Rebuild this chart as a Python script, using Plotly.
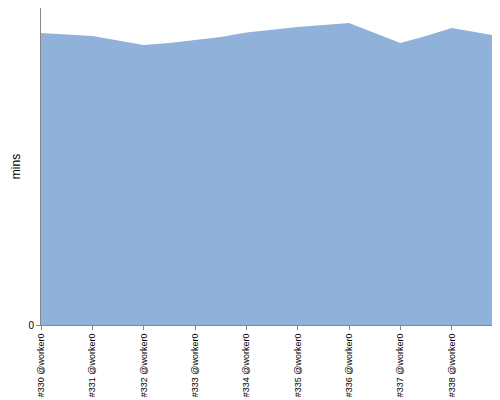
import plotly.graph_objects as go

x_pos = list(range(19))
values = [292, 290.5, 289, 284.5, 280, 282, 285, 288, 292.5, 295.5, 298, 300, 302, 292, 282, 289, 297, 292.5, 288]
tick_pos = [0, 2, 4, 6, 8, 10, 12, 14, 16, 18]
tick_labels = ["#%d @worker0" % n for n in range(330, 340)]

fig = go.Figure(go.Scatter(x=x_pos, y=values, mode="lines", fill="tozeroy",
                           line=dict(width=0, color="#8fb1da"), fillcolor="#8fb1da"))
fig.update_layout(width=500, height=400, margin=dict(l=33, r=5, t=0, b=83, pad=0),
                  plot_bgcolor="white", paper_bgcolor="white", showlegend=False,
                  font=dict(family="Liberation Sans", size=10, color="black"))
fig.update_xaxes(range=[0, 18], tickvals=tick_pos, ticktext=tick_labels, tickangle=-90,
                 tickfont=dict(size=9), automargin=False,
                 showgrid=False, showline=True, linecolor="#888", ticks="outside",
                 ticklen=4, tickcolor="#888", zeroline=False)
fig.update_yaxes(range=[0, 317], tickvals=[0], ticktext=["0"], showgrid=False, automargin=False,
                 showline=True, linecolor="#888", ticks="outside", ticklen=4, tickcolor="#888",
                 zeroline=False, title=dict(text="mins", font=dict(size=12), standoff=5))
fig.write_html("out.html")
